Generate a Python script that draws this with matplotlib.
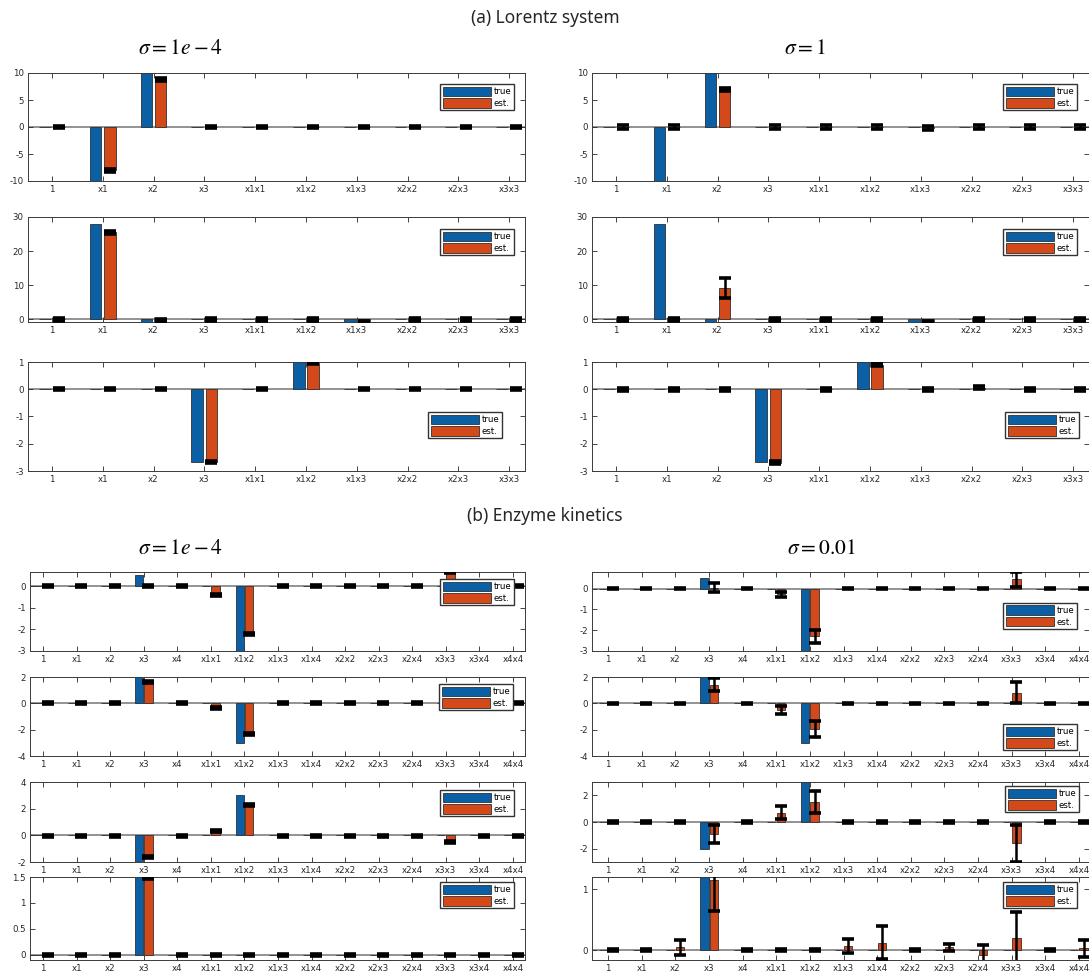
import matplotlib
matplotlib.use('Agg')
import matplotlib.pyplot as plt
from matplotlib.ticker import FormatStrFormatter

# ---------------- data ----------------
lorenz_terms = ['1', 'x1', 'x2', 'x3', 'x1x1', 'x1x2', 'x1x3', 'x2x2', 'x2x3', 'x3x3']
enzyme_terms = ['1', 'x1', 'x2', 'x3', 'x4', 'x1x1', 'x1x2', 'x1x3', 'x1x4',
                'x2x2', 'x2x3', 'x2x4', 'x3x3', 'x3x4', 'x4x4']

# Lorenz system: true coefficients
lor_true_1 = [0, -10, 10, 0, 0, 0, 0, 0, 0, 0]
lor_true_2 = [0, 28, -1, 0, 0, 0, -1, 0, 0, 0]
lor_true_3 = [0, 0, 0, -2.667, 0, 1, 0, 0, 0, 0]
# Lorenz, sigma = 1e-4 (estimates and error bars)
lor_est_1_lo = [0, -8.0, 8.8, 0, 0, 0, 0, 0, 0, 0]
lor_err_1_lo = [0.25, 0.25, 0.25, 0.25, 0.25, 0.25, 0.25, 0.25, 0.25, 0.25]
lor_est_2_lo = [0, 25.5, -0.3, 0, 0, 0, -1.0, 0, 0, 0]
lor_err_2_lo = [0.4, 0.4, 0.4, 0.4, 0.4, 0.4, 0.4, 0.4, 0.4, 0.4]
lor_est_3_lo = [0, 0, 0, -2.68, 0, 0.97, 0, 0.02, 0, 0]
lor_err_3_lo = [0.04, 0.04, 0.04, 0.04, 0.04, 0.04, 0.04, 0.04, 0.04, 0.04]
# Lorenz, sigma = 1
lor_est_1_hi = [0, 0, 7.0, 0, 0, 0, -0.2, 0, 0, 0]
lor_err_1_hi = [0.3, 0.3, 0.3, 0.3, 0.3, 0.3, 0.3, 0.3, 0.3, 0.3]
lor_est_2_hi = [0, 0, 9.2, 0, 0, 0, -0.8, 0, 0, 0]
lor_err_2_hi = [0.4, 0.4, 3.0, 0.4, 0.4, 0.4, 0.4, 0.4, 0.4, 0.4]
lor_est_3_hi = [0, 0, 0, -2.7, 0, 0.9, 0, 0.06, 0, 0]
lor_err_3_hi = [0.05, 0.05, 0.05, 0.05, 0.05, 0.05, 0.05, 0.05, 0.05, 0.05]

# Enzyme kinetics: true coefficients
enz_true_1 = [0, 0, 0, 0.5, 0, 0, -3, 0, 0, 0, 0, 0, 0, 0, 0]
enz_true_2 = [0, 0, 0, 2, 0, 0, -3, 0, 0, 0, 0, 0, 0, 0, 0]
enz_true_3 = [0, 0, 0, -2, 0, 0, 3, 0, 0, 0, 0, 0, 0, 0, 0]
enz_true_4 = [0, 0, 0, 1.5, 0, 0, 0, 0, 0, 0, 0, 0, 0, 0, 0]
# Enzyme, sigma = 1e-4
enz_est_1_lo = [0, 0, 0, 0.02, 0, -0.4, -2.2, 0, 0, 0, 0, 0, 0.65, 0, 0]
enz_err_1_lo = [0.04] * 15
enz_est_2_lo = [0, 0, 0, 1.65, 0, -0.35, -2.3, 0, 0, 0, 0, 0, 0, 0, 0]
enz_err_2_lo = [0.08] * 15
enz_est_3_lo = [-0.05, -0.05, -0.05, -1.65, -0.05, 0.35, 2.3, -0.05, -0.05, -0.05, -0.05, -0.05, -0.5, -0.05, -0.05]
enz_err_3_lo = [0.08] * 15
enz_est_4_lo = [0, 0, 0, 1.48, 0, 0, 0, 0, 0, 0, 0, 0, 0, 0, 0]
enz_err_4_lo = [0.015] * 15
# Enzyme, sigma = 0.01
enz_est_1_hi = [0, 0, 0, 0.05, 0, -0.28, -2.3, 0, 0, 0, 0, 0, 0.45, 0, 0]
enz_err_1_hi = [0.03, 0.03, 0.03, 0.2, 0.03, 0.12, 0.3, 0.03, 0.03, 0.03, 0.03, 0.03, 0.35, 0.03, 0.03]
enz_est_2_hi = [0, 0, 0, 1.4, 0, -0.5, -1.95, 0, 0, 0, 0, 0, 0.8, 0, 0]
enz_err_2_hi = [0.06, 0.06, 0.06, 0.5, 0.06, 0.3, 0.6, 0.06, 0.06, 0.06, 0.06, 0.06, 0.8, 0.06, 0.06]
enz_est_3_hi = [0, 0, 0, -0.9, 0, 0.7, 1.5, 0, 0, 0, 0, 0, -1.6, 0, 0]
enz_err_3_hi = [0.08, 0.08, 0.08, 0.7, 0.08, 0.5, 0.8, 0.08, 0.08, 0.08, 0.08, 0.08, 1.4, 0.08, 0.08]
enz_est_4_hi = [0, 0, 0.05, 1.15, 0, 0, 0, 0.07, 0.12, 0, 0.05, -0.08, 0.2, 0, 0.03]
enz_err_4_hi = [0.02, 0.02, 0.12, 0.5, 0.02, 0.02, 0.02, 0.12, 0.27, 0.02, 0.06, 0.16, 0.43, 0.02, 0.14]

section_titles = ['(a) Lorentz system', '(b) Enzyme kinetics']
sigma_titles = [r'$\sigma = 1e-4$', r'$\sigma = 1$', r'$\sigma = 1e-4$', r'$\sigma = 0.01$']
legend_labels = ['true', 'est.']

# ---------------- styling ----------------
W, H = 1089, 980
DPI = 100
BLUE = '#0b5fa5'
RED = '#d4491a'
EDGE = '#303030'
TXT = '#262626'
plt.rcParams['mathtext.fontset'] = 'stix'

fig = plt.figure(figsize=(W / DPI, H / DPI), dpi=DPI)


def rect(x0, x1, y0, y1):
    return [x0 / W, 1 - y1 / H, (x1 - x0) / W, (y1 - y0) / H]


def panel(r, terms, true, est, err, xlim, ylim, yticks, leg_anchor, width, off):
    ax = fig.add_axes(r)
    pos = list(range(1, len(terms) + 1))
    ax.axhline(0, color='#8a8a8a', lw=1.3, zorder=1)
    bt = ax.bar([p - off for p in pos], true, width=width, color=BLUE,
                edgecolor=EDGE, linewidth=0.6, zorder=2)
    be = ax.bar([p + off for p in pos], est, width=width, color=RED,
                edgecolor=EDGE, linewidth=0.6, zorder=2)
    ax.errorbar([p + off for p in pos], est, yerr=err, fmt='none', ecolor='black',
                elinewidth=1.8, capsize=4.5, capthick=2.6, zorder=3)
    ax.set_xlim(*xlim)
    ax.set_ylim(*ylim)
    ax.set_xticks(pos)
    ax.set_xticklabels(terms)
    ax.set_yticks(yticks)
    ax.yaxis.set_major_formatter(FormatStrFormatter('%g'))
    ax.tick_params(direction='in', top=True, right=True, length=3.5, width=0.6,
                   labelsize=6.2, pad=3, colors=TXT)
    for s in ax.spines.values():
        s.set_color('#3a3a3a')
        s.set_linewidth(0.7)
    ax.legend([bt, be], legend_labels, loc='upper right', bbox_to_anchor=leg_anchor,
              fontsize=6.2, handlelength=5.6, handleheight=1.35, labelspacing=0.2,
              borderpad=0.3, handletextpad=0.3, borderaxespad=0, fancybox=False,
              edgecolor='#333333', framealpha=1)
    return ax


# ---------------- (a) Lorenz ----------------
LX = (28, 525)
RX = (592, 1089)
a_rows = [(73, 181), (217, 322), (362, 471)]
a_ylims = [(-10, 10), (-0.8, 30), (-3, 1)]
a_yticks = [[-10, -5, 0, 5, 10], [0, 10, 20, 30], [-3, -2, -1, 0, 1]]
a_true = [lor_true_1, lor_true_2, lor_true_3]
a_est_lo = [lor_est_1_lo, lor_est_2_lo, lor_est_3_lo]
a_err_lo = [lor_err_1_lo, lor_err_2_lo, lor_err_3_lo]
a_est_hi = [lor_est_1_hi, lor_est_2_hi, lor_est_3_hi]
a_err_hi = [lor_err_1_hi, lor_err_2_hi, lor_err_3_hi]
a_leg_lo = [(0.978, 0.898), (0.978, 0.886), (0.954, 0.541)]
a_leg_hi = [(0.976, 0.898), (0.976, 0.886), (0.98, 0.541)]

for i in range(3):
    y0, y1 = a_rows[i]
    panel(rect(LX[0], LX[1], y0, y1), lorenz_terms, a_true[i], a_est_lo[i], a_err_lo[i],
          (0.53, 10.31), a_ylims[i], a_yticks[i], a_leg_lo[i], 0.23, 0.14)
    panel(rect(RX[0], RX[1], y0, y1), lorenz_terms, a_true[i], a_est_hi[i], a_err_hi[i],
          (0.53, 10.31), a_ylims[i], a_yticks[i], a_leg_hi[i], 0.23, 0.14)

# ---------------- (b) Enzyme ----------------
BLX = (30, 525)
BRX = (592, 1089)
b_rows = [(572, 651), (677, 756), (782, 862), (877, 960)]
b_ylims_lo = [(-3, 0.65), (-4, 2), (-2, 4), (-0.1, 1.5)]
b_ylims_hi = [(-3, 0.8), (-4, 2), (-3, 3), (-0.16, 1.2)]
b_yticks_lo = [[-3, -2, -1, 0], [-4, -2, 0, 2], [-2, 0, 2, 4], [0, 0.5, 1, 1.5]]
b_yticks_hi = [[-3, -2, -1, 0], [-4, -2, 0, 2], [-2, 0, 2], [0, 1]]
b_true = [enz_true_1, enz_true_2, enz_true_3, enz_true_4]
b_est_lo = [enz_est_1_lo, enz_est_2_lo, enz_est_3_lo, enz_est_4_lo]
b_err_lo = [enz_err_1_lo, enz_err_2_lo, enz_err_3_lo, enz_err_4_lo]
b_est_hi = [enz_est_1_hi, enz_est_2_hi, enz_est_3_hi, enz_est_4_hi]
b_err_hi = [enz_err_1_hi, enz_err_2_hi, enz_err_3_hi, enz_err_4_hi]
b_leg_lo = [(0.978, 0.91), (0.976, 0.91), (0.978, 0.9), (0.978, 0.94)]
b_leg_hi = [(0.976, 0.61), (0.976, 0.405), (0.98, 0.95), (0.976, 0.94)]

for i in range(4):
    y0, y1 = b_rows[i]
    panel(rect(BLX[0], BLX[1], y0, y1), enzyme_terms, b_true[i], b_est_lo[i], b_err_lo[i],
          (0.61, 15.36), b_ylims_lo[i], b_yticks_lo[i], b_leg_lo[i], 0.25, 0.14)
    panel(rect(BRX[0], BRX[1], y0, y1), enzyme_terms, b_true[i], b_est_hi[i], b_err_hi[i],
          (0.52, 15.3), b_ylims_hi[i], b_yticks_hi[i], b_leg_hi[i], 0.25, 0.14)

# ---------------- titles ----------------
fig.text(545 / W, 1 - 18 / H, section_titles[0], ha='center', va='center',
         fontsize=12.5, family='Noto Sans', color=TXT)
fig.text(545 / W, 1 - 516 / H, section_titles[1], ha='center', va='center',
         fontsize=12.5, family='Noto Sans', color=TXT)
fig.text(181 / W, 1 - 48 / H, sigma_titles[0], ha='center', va='center', fontsize=15.5, color='black')
fig.text(805 / W, 1 - 48 / H, sigma_titles[1], ha='center', va='center', fontsize=15.5, color='black')
fig.text(181 / W, 1 - 548 / H, sigma_titles[2], ha='center', va='center', fontsize=15.5, color='black')
fig.text(822 / W, 1 - 548 / H, sigma_titles[3], ha='center', va='center', fontsize=15.5, color='black')

fig.savefig('out.png', dpi=DPI)
